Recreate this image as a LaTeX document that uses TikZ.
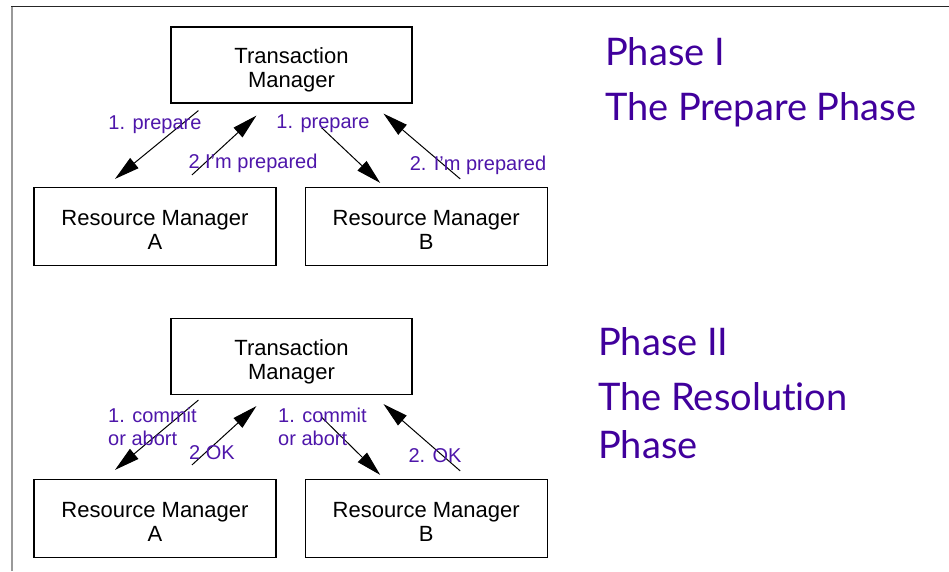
\documentclass[tikz,border=0pt]{standalone}
\usepackage{fontspec}
\setmainfont{Liberation Sans}
\newfontfamily\titlefont[Ligatures=NoCommon]{Lato}
\usepackage{xcolor}
\usetikzlibrary{arrows.meta, positioning}

\definecolor{phasepurple}{RGB}{64,0,156}
\definecolor{msgpurple}{RGB}{78,22,170}

\begin{document}
\begin{tikzpicture}[
    x=1pt, y=-1pt,
    box/.style={draw, line width=1.2pt, minimum width=242pt, inner sep=0pt, align=center,
        font=\fontsize{22}{24}\selectfont, text height=50pt, text depth=5pt},
    tmbox/.style={box, minimum width=241pt, minimum height=76pt},
    rmbox/.style={box, minimum height=78pt},
    msg/.style={text=msgpurple, inner sep=0pt, align=left, font=\fontsize{20}{23}\selectfont},
    phase/.style={text=phasepurple, inner sep=0pt, anchor=base west, font=\titlefont\fontsize{38}{40}\selectfont},
    arrow/.style={-{Triangle[length=25pt, width=13pt]}, line width=1pt}
]
    \useasboundingbox (0,0) rectangle (949,571);
    % slide frame
    \draw[gray!80, line width=2pt] (11.5,571) -- (11.5,6);
    \draw[black!85, line width=1pt] (11,6) -- (949,6);

    % phase one
    \node[tmbox] (tm1) at (291.5,65) {Transaction\\Manager};
    \node[rmbox] (rmA1) at (155,226.5) {Resource Manager\\A};
    \node[rmbox, right=28pt of rmA1] (rmB1) {Resource Manager\\B};

    \draw[arrow] ([xshift=28pt, yshift=-7pt]tm1.south west) -- ([xshift=-40pt, yshift=8pt]rmA1.north);
    \draw[arrow] ([xshift=37pt, yshift=12pt]rmA1.north) -- ([xshift=86pt, yshift=-12pt]tm1.south west);
    \draw[arrow] ([xshift=30pt, yshift=-24pt]tm1.south) -- ([xshift=-46pt, yshift=4pt]rmB1.north);
    \draw[arrow] ([xshift=34pt, yshift=8pt]rmB1.north) -- ([xshift=92pt, yshift=-10pt]tm1.south);

    \node[msg] (prepA) at (155,125) {1. prepare};
    \node[msg] (readyA) at (253,163) {2 I'm prepared};
    \node[msg] (prepB) at (323,124) {1. prepare};
    \node[msg] (readyB) at (478,165) {2. I'm prepared};

    \node[phase] (title1) at (605,65) {Phase I};
    \node[phase] (sub1) at (605,120) {The Prepare Phase};

    % phase two
    \node[tmbox] (tm2) at (291.5,356.5) {Transaction\\Manager};
    \node[rmbox] (rmA2) at (155,518.5) {Resource Manager\\A};
    \node[rmbox, right=28pt of rmA2] (rmB2) {Resource Manager\\B};

    \draw[arrow] ([xshift=28pt, yshift=-5pt]tm2.south west) -- ([xshift=-40pt, yshift=9pt]rmA2.north);
    \draw[arrow] ([xshift=37pt, yshift=14pt]rmA2.north) -- ([xshift=86pt, yshift=-11pt]tm2.south west);
    \draw[arrow] ([xshift=30pt, yshift=-22pt]tm2.south) -- ([xshift=-46pt, yshift=4pt]rmB2.north);
    \draw[arrow] ([xshift=34pt, yshift=8pt]rmB2.north) -- ([xshift=92pt, yshift=-9pt]tm2.south);

    \node[msg, anchor=west] (commitA) at (108,426.5) {1. commit\\or abort};
    \node[msg] (okA) at (212,453) {2 OK};
    \node[msg, anchor=west] (commitB) at (278,426.5) {1. commit\\or abort};
    \node[msg] (okB) at (435,456) {2. OK};

    \node[phase] (title2) at (598,355) {Phase II};
    \node[phase] (sub2a) at (598,410) {The Resolution};
    \node[phase] (sub2b) at (598,458) {Phase};
\end{tikzpicture}
\end{document}
